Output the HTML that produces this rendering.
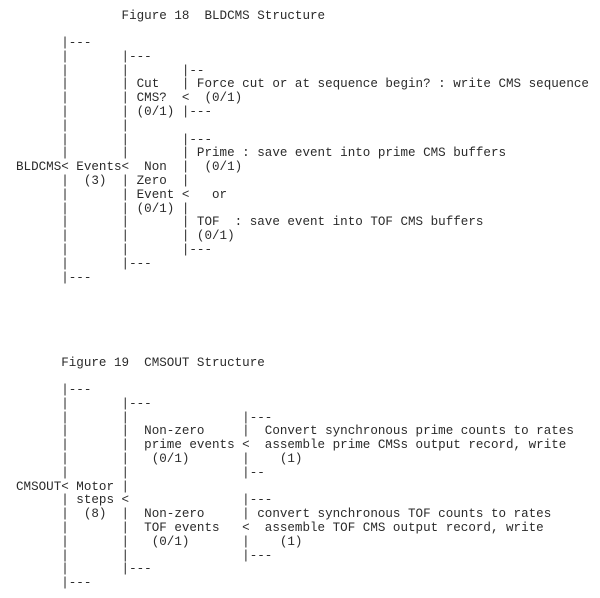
<!DOCTYPE html>
<html><head><meta charset="utf-8"><style>
html,body{margin:0;padding:0;background:#fff;width:600px;height:598px;overflow:hidden;position:relative}
pre{position:absolute;left:16px;margin:0;font-family:"Liberation Mono","Courier New",monospace;font-size:12.57px;line-height:13.8px;color:#2a2a2a;white-space:pre}
</style></head><body>
<pre style="top:9.5px">              Figure 18  BLDCMS Structure

      |---
      |       |---
      |       |       |--
      |       | Cut   | Force cut or at sequence begin? : write CMS sequence
      |       | CMS?  <  (0/1)
      |       | (0/1) |---
      |       |
      |       |       |---
      |       |       | Prime : save event into prime CMS buffers
BLDCMS&lt; Events&lt;  Non  |  (0/1)
      |  (3)  | Zero  |
      |       | Event &lt;   or
      |       | (0/1) |
      |       |       | TOF  : save event into TOF CMS buffers
      |       |       | (0/1)
      |       |       |---
      |       |---
      |---</pre>
<pre style="top:356.5px">      Figure 19  CMSOUT Structure

      |---
      |       |---
      |       |               |---
      |       |  Non-zero     |  Convert synchronous prime counts to rates
      |       |  prime events &lt;  assemble prime CMSs output record, write
      |       |   (0/1)       |    (1)
      |       |               |--
CMSOUT&lt; Motor |
      | steps &lt;               |---
      |  (8)  |  Non-zero     | convert synchronous TOF counts to rates
      |       |  TOF events   &lt;  assemble TOF CMS output record, write
      |       |   (0/1)       |    (1)
      |       |               |---
      |       |---
      |---</pre>
</body></html>
